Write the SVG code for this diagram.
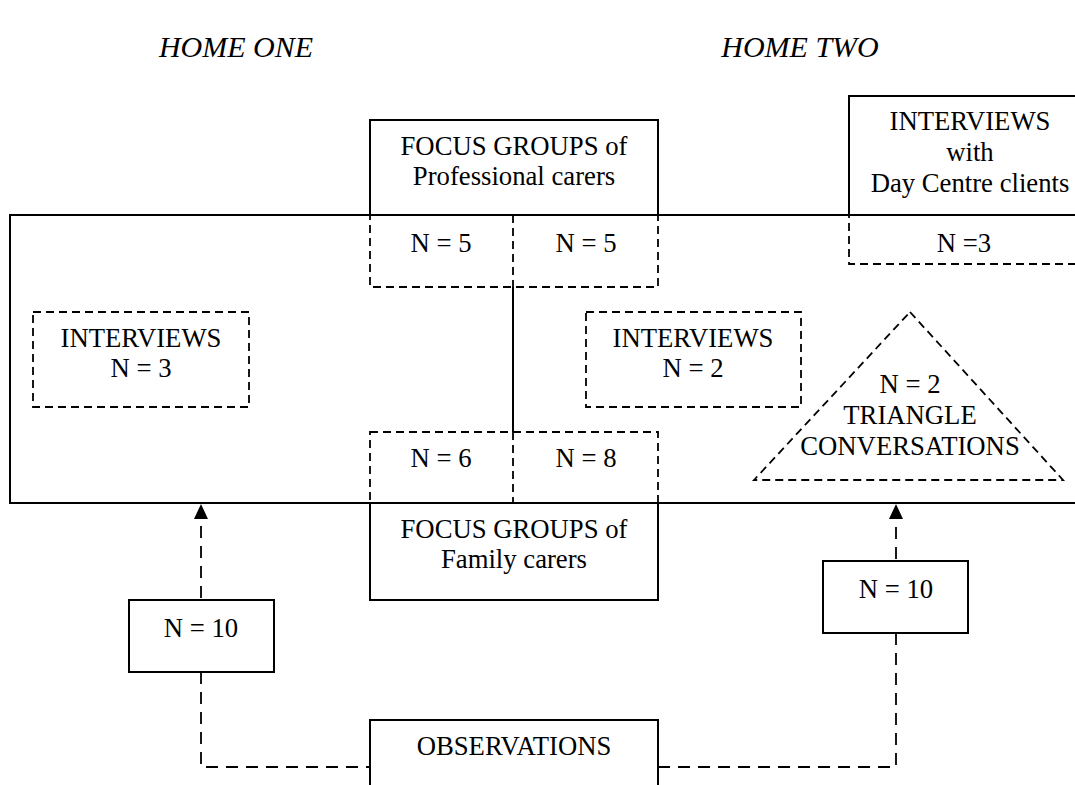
<svg xmlns="http://www.w3.org/2000/svg" width="1075" height="785" viewBox="0 0 1075 785">
<style>
text{font-family:"Liberation Serif","Times New Roman",serif;font-size:26.7px;fill:#000;text-anchor:middle}
.t{font-size:30px;font-style:italic}
.s{fill:none;stroke:#000;stroke-width:2}
.d{fill:none;stroke:#000;stroke-width:1.8;stroke-dasharray:8,5}
.c{fill:none;stroke:#000;stroke-width:1.8;stroke-dasharray:12,8}
.ah{fill:#000;stroke:none}
</style>
<rect width="1075" height="785" fill="#fff"/>
<text class="t" x="236" y="57">HOME ONE</text>
<text class="t" x="800" y="57">HOME TWO</text>
<g id="frame"><path class="s" d="M1075,215 H10 V503 H1075"/></g>
<g id="prof">
<path class="s" d="M370,215 V120 H658 V215"/>
<text x="514" y="155">FOCUS GROUPS of</text>
<text x="514" y="185">Professional carers</text>
<rect class="d" x="370" y="215" width="288" height="72"/>
<line class="d" x1="513" y1="215" x2="513" y2="287"/>
<text x="441" y="252">N = 5</text>
<text x="586" y="252">N = 5</text>
</g>
<g id="family">
<rect class="d" x="370" y="432" width="288" height="71"/>
<line class="d" x1="513" y1="432" x2="513" y2="503"/>
<text x="441" y="467">N = 6</text>
<text x="586" y="467">N = 8</text>
<path class="s" d="M370,503 V600 H658 V503"/>
<text x="514" y="538">FOCUS GROUPS of</text>
<text x="514" y="568">Family carers</text>
</g>
<g id="dayc">
<path class="s" d="M849,215 V96 H1075"/>
<text x="970" y="130">INTERVIEWS</text>
<text x="970" y="161">with</text>
<text x="970" y="192">Day Centre clients</text>
<path class="d" d="M1075,215 H849 V264 H1075"/>
<text x="964" y="252">N =3</text>
</g>
<g id="int1">
<rect class="d" x="33" y="312" width="216" height="95"/>
<text x="141" y="347">INTERVIEWS</text>
<text x="141" y="377">N = 3</text>
</g>
<g id="int2">
<rect class="d" x="586" y="312" width="215" height="95"/>
<text x="693" y="347">INTERVIEWS</text>
<text x="693" y="377">N = 2</text>
</g>
<g id="tri">
<path class="d" d="M910,312 L1063,480 H754 Z"/>
<text x="910" y="393">N = 2</text>
<text x="910" y="424">TRIANGLE</text>
<text x="910" y="455">CONVERSATIONS</text>
</g>
<g id="n10a">
<rect class="s" x="129" y="600" width="145" height="72" stroke-width="1.5"/>
<text x="201" y="637">N = 10</text>
</g>
<g id="n10b">
<rect class="s" x="823" y="561" width="145" height="72" stroke-width="1.5"/>
<text x="896" y="598">N = 10</text>
</g>
<g id="obs">
<path class="s" d="M370,785 V720 H658 V785"/>
<text x="514" y="755">OBSERVATIONS</text>
</g>
<g id="connectors">
<line class="s" x1="513" y1="287" x2="513" y2="432" stroke-width="1.5"/>
<path class="c" d="M201,598 V518"/>
<polygon class="ah" points="201,504 194,519 208,519"/>
<path class="c" d="M896,559 V518"/>
<polygon class="ah" points="896,504 889,519 903,519"/>
<path class="c" d="M201,672 V767 H370"/>
<path class="c" d="M896,633 V767 H658"/>
</g>
</svg>
